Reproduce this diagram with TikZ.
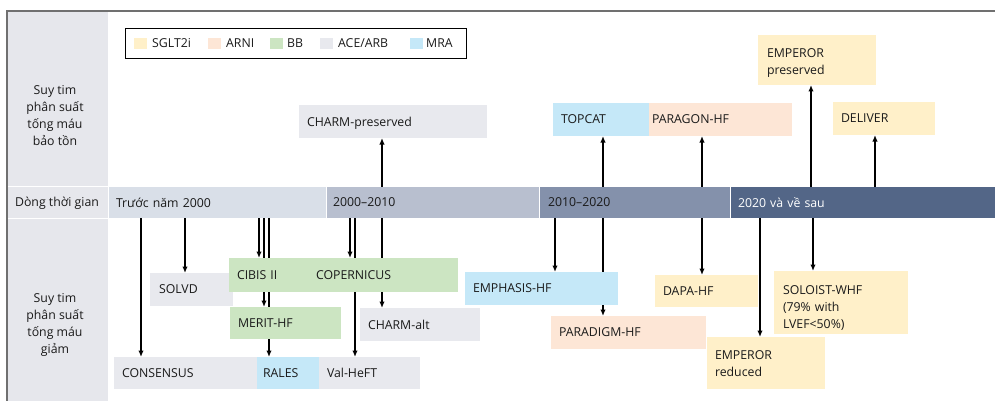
\documentclass[tikz,border=0pt]{standalone}
\usepackage{fontspec}
\setmainfont{Open Sans}
\usetikzlibrary{arrows.meta}
\definecolor{cSG}{HTML}{FFF0C9}
\definecolor{cAR}{HTML}{FDE6D6}
\definecolor{cBB}{HTML}{CCE5C2}
\definecolor{cAC}{HTML}{E8E9EE}
\definecolor{cMR}{HTML}{C5E8F8}
\definecolor{cLeft}{HTML}{E6E7EC}
\definecolor{cTa}{HTML}{D9DFE8}
\definecolor{cTb}{HTML}{B8BFCF}
\definecolor{cTc}{HTML}{8491AB}
\definecolor{cTd}{HTML}{536687}
\definecolor{cTxt}{HTML}{1A1A1A}
\definecolor{cBorder}{HTML}{707070}
\pgfdeclarelayer{bg}
\pgfsetlayers{bg,main}
\begin{document}
\begin{tikzpicture}[x=1pt,y=-1pt,
  font=\fontsize{12.3}{17}\selectfont,
  mbox/.style={anchor=north west, inner xsep=8pt, inner ysep=0pt, outer sep=0pt,
    align=left, text=cTxt},
  box/.style={mbox, text depth=0pt},
  seg/.style={anchor=north west, inner xsep=7pt, inner ysep=0pt, outer sep=0pt,
    minimum height=31pt, text=cTxt, align=left, text depth=0pt},
  sidetxt/.style={align=center, text=cTxt, inner sep=0pt},
  swatch/.style={anchor=north west, minimum width=13pt, minimum height=11pt, inner sep=0pt},
  lgtxt/.style={anchor=west, inner sep=0pt, text=cTxt},
  arr/.style={line width=1.6pt, -{Latex[length=6.5pt,width=5.5pt]}}]
\useasboundingbox (0,0) rectangle (995,401);
% left column cells
\fill[cLeft] (7,11) rectangle (108,186);
\fill[cLeft] (7,187) rectangle (108,218);
\fill[cLeft] (7,219) rectangle (108,401);
% frame
\draw[cBorder, line width=1.3pt] (995,11) -- (7,11) -- (7,401);
% side texts
\node[sidetxt] (hfpef) at (55,116) {Suy tim\\phân suất\\tống máu\\bảo tồn};
\node[sidetxt] (tl) at (57,203) {Dòng thời gian};
\node[sidetxt] (hfref) at (55,325) {Suy tim\\phân suất\\tống máu\\giảm};
% timeline
\node[seg, fill=cTa, minimum width=217pt, text width=203pt] (seg1) at (109,187) {Trước năm 2000};
\node[seg, fill=cTb, minimum width=212pt, text width=200pt, inner xsep=6pt] (seg2) at (327,187) {2000–2010};
\node[seg, fill=cTc, minimum width=190pt, text width=174pt, inner xsep=8pt] (seg3) at (540,187) {2010–2020};
\node[seg, fill=cTd, minimum width=264pt, text width=250pt, text=white] (seg4) at (731,187) {2020 và về sau};
% legend
\node[draw=black, line width=0.9pt, anchor=north west, minimum width=341pt, minimum height=30pt, inner sep=0pt] (legend) at (125,28) {};
\node[swatch, fill=cSG] (swa) at (134,38) {};
\node[lgtxt] (lga) at (152,43.5) {SGLT2i};
\node[swatch, fill=cAR] (swb) at (208,38) {};
\node[lgtxt] (lgb) at (226,43.5) {ARNI};
\node[swatch, fill=cBB] (swc) at (270,38) {};
\node[lgtxt] (lgc) at (287,43.5) {BB};
\node[swatch, fill=cAC] (swd) at (320,38) {};
\node[lgtxt] (lgd) at (338,43.5) {ACE/ARB};
\node[swatch, fill=cMR] (swe) at (410,38) {};
\node[lgtxt] (lge) at (426,43.5) {MRA};
% upper boxes
\node[box, fill=cAC, minimum width=188pt, minimum height=33pt, text width=172pt] (charmp) at (299,105) {CHARM-preserved};
\node[box, fill=cMR, minimum width=96pt, minimum height=33pt, text width=80pt] (topcat) at (553,103) {TOPCAT};
\node[box, fill=cAR, minimum width=143pt, minimum height=33pt, text width=137pt, inner xsep=3pt] (paragon) at (649,103) {PARAGON-HF};
\node[mbox, fill=cSG, minimum width=118pt, minimum height=50pt, text width=100pt, inner xsep=9pt, text height=15.5pt] (empp) at (758,35) {EMPEROR\\preserved};
\node[box, fill=cSG, minimum width=102pt, minimum height=33pt, text width=86pt] (deliver) at (833,102) {DELIVER};
% lower boxes
\node[box, fill=cAC, minimum width=83pt, minimum height=33pt, text width=65pt, inner xsep=9pt] (solvd) at (150,273) {SOLVD};
\node[box, fill=cBB, minimum width=229pt, minimum height=34pt, text width=213pt] (bbtop) at (229,258) {\makebox[79pt][l]{CIBIS II}COPERNICUS};
\node[box, fill=cBB, minimum width=111pt, minimum height=32pt, text width=95pt] (merit) at (230,307) {MERIT-HF};
\node[box, fill=cAC, minimum width=120pt, minimum height=33pt, text width=104pt] (charma) at (360,308) {CHARM-alt};
\node[box, fill=cAC, minimum width=143pt, minimum height=32pt, text width=127pt] (consensus) at (114,357) {CONSENSUS};
\node[box, fill=cMR, minimum width=62pt, minimum height=32pt, text width=50pt, inner xsep=6pt] (rales) at (257,357) {RALES};
\node[box, fill=cAC, minimum width=101pt, minimum height=32pt, text width=85pt] (valheft) at (319,357) {Val-HeFT};
\node[box, fill=cMR, minimum width=153pt, minimum height=33pt, text width=137pt] (emphasis) at (465,272) {EMPHASIS-HF};
\node[box, fill=cAR, minimum width=155pt, minimum height=33pt, text width=139pt] (paradigm) at (551,316) {PARADIGM-HF};
\node[box, fill=cSG, minimum width=103pt, minimum height=32pt, text width=87pt] (dapa) at (655,275) {DAPA-HF};
\node[mbox, fill=cSG, minimum width=118pt, minimum height=52pt, text width=102pt, text height=11pt] (empr) at (707,337) {EMPEROR\\reduced};
\node[mbox, fill=cSG, minimum width=134pt, minimum height=63pt, text width=116pt, inner xsep=9pt, text height=20.5pt] (soloist) at (774,271) {SOLOIST-WHF\\(79\% with\\LVEF<50\%)};
% arrows
\begin{pgfonlayer}{bg}
\draw[arr] (382,0 |- seg2.north) -- (382,0 |- charmp.south);
\draw[arr] (603,0 |- seg3.north) -- (603,0 |- topcat.south);
\draw[arr] (702,0 |- seg3.north) -- (702,0 |- paragon.south);
\draw[arr] (811,0 |- seg4.north) -- (811,0 |- empp.south);
\draw[arr] (875,0 |- seg4.north) -- (875,0 |- deliver.south);
\draw[arr] (141,0 |- seg1.south) -- (141,0 |- consensus.north);
\draw[arr] (185,0 |- seg1.south) -- (185,0 |- solvd.north);
\draw[arr] (259,0 |- seg1.south) -- (259,0 |- bbtop.north);
\draw[arr] (264,0 |- seg1.south) -- (264,0 |- merit.north);
\draw[arr] (269,0 |- seg1.south) -- (269,0 |- rales.north);
\draw[arr] (350,0 |- seg2.south) -- (350,0 |- bbtop.north);
\draw[arr] (355,0 |- seg2.south) -- (355,0 |- valheft.north);
\draw[arr] (382,0 |- seg2.south) -- (382,0 |- charma.north);
\draw[arr] (555,0 |- seg3.south) -- (555,0 |- emphasis.north);
\draw[arr] (603,0 |- seg3.south) -- (603,0 |- paradigm.north);
\draw[arr] (702,0 |- seg3.south) -- (702,0 |- dapa.north);
\draw[arr] (760,0 |- seg4.south) -- (760,0 |- empr.north);
\draw[arr] (813,0 |- seg4.south) -- (813,0 |- soloist.north);
\end{pgfonlayer}
\end{tikzpicture}
\end{document}
